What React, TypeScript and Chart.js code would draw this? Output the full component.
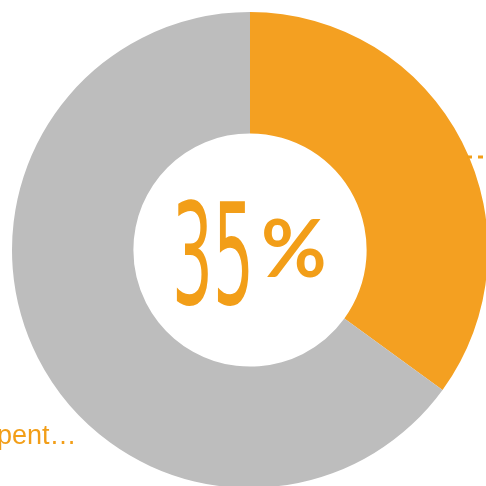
import React, { useEffect, useRef } from "react";
import { Chart, registerables } from "chart.js";

Chart.register(...registerables);

const categories = ["Share", "Rest"];
const values = [35, 65];
const sliceColors = ["#F4A021", "#BDBDBD"];
const centerNumber = "35";
const centerSuffix = "%";
const sideText = "pent…";

const ORANGE = "#F29E18";

const overlay = {
  id: "overlay",
  afterDraw(chart: any) {
    const ctx = chart.ctx;
    const meta = chart.getDatasetMeta(0);
    const arc = meta.data[0];
    const cx = arc.x;
    const cy = arc.y;
    ctx.save();
    ctx.fillStyle = ORANGE;
    ctx.textBaseline = "alphabetic";
    // handwritten-like number: squashed horizontally
    ctx.save();
    ctx.translate(cx - 78, cy + 54);
    ctx.scale(0.46, 1);
    ctx.font = "140px 'DejaVu Sans'";
    ctx.textAlign = "left";
    ctx.fillText(centerNumber, 0, 0);
    ctx.restore();
    // percent sign
    ctx.font = "bold 80px Lato";
    ctx.textAlign = "left";
    ctx.fillText(centerSuffix, cx + 11, cy + 27);
    // side text
    ctx.font = "27px 'Liberation Sans'";
    ctx.fillText(sideText, -3, 194 + cy);
    // leader dashes at right
    ctx.strokeStyle = ORANGE;
    ctx.lineWidth = 3;
    ctx.setLineDash([5, 6]);
    ctx.beginPath();
    ctx.moveTo(467, 157);
    ctx.lineTo(490, 157);
    ctx.stroke();
    ctx.restore();
  },
};

export default function App() {
  const ref = useRef<HTMLCanvasElement | null>(null);
  useEffect(() => {
    if (!ref.current) return;
    const chart = new Chart(ref.current, {
      type: "doughnut",
      data: {
        labels: categories,
        datasets: [
          {
            data: values,
            backgroundColor: sliceColors,
            borderWidth: 0,
          },
        ],
      },
      options: {
        responsive: false,
        animation: false,
        cutout: "49%",
        layout: { padding: 12 },
        plugins: {
          legend: { display: false },
          tooltip: { enabled: false },
        },
      },
      plugins: [overlay],
    });
    return () => chart.destroy();
  }, []);
  return (
    <div
      style={{
        position: "fixed",
        left: 0,
        top: 0,
        width: 486,
        height: 486,
        overflow: "hidden",
        background: "#fff",
      }}
    >
      <canvas ref={ref} width={500} height={500} style={{ width: 500, height: 500 }} />
    </div>
  );
}
